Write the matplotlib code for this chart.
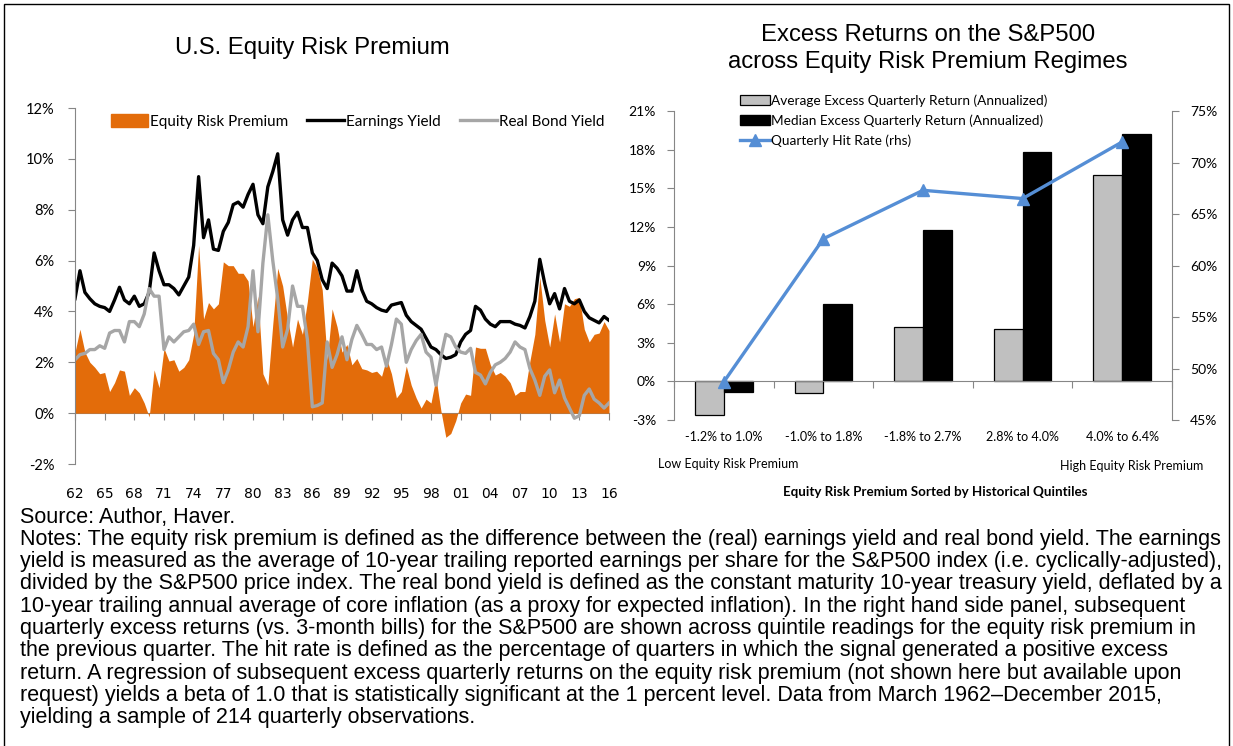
import numpy as np
import matplotlib
matplotlib.use("Agg")
import matplotlib.pyplot as plt
import matplotlib.transforms as mtransforms
from matplotlib.patches import Patch, Rectangle
from matplotlib.lines import Line2D

# ---- data ----
# half-year steps, 1962.0 .. 2016.0
years = np.arange(1962, 2016.01, 0.5)

earnings_yield = [
    4.5, 5.6, 4.75, 4.5, 4.3, 4.2, 4.15, 4.0, 4.45, 4.95,
    4.45, 4.3, 4.6, 4.2, 4.3, 4.75, 6.3, 5.6, 5.05, 5.05,
    4.9, 4.65, 5.0, 5.35, 6.6, 9.3, 6.9, 7.6, 6.45, 6.4,
    7.15, 7.5, 8.2, 8.3, 8.1, 8.6, 9.0, 7.8, 7.45, 8.9,
    9.5, 10.2, 7.6, 7.0, 7.6, 7.9, 7.3, 7.3, 6.3, 6.0,
    5.25, 4.9, 5.9, 5.7, 5.4, 4.8, 4.8, 5.6, 4.85, 4.4,
    4.3, 4.15, 4.05, 4.0, 4.25, 4.3, 4.35, 3.85, 3.6, 3.45,
    3.3, 2.95, 2.6, 2.5, 2.3, 2.15, 2.2, 2.3, 2.8, 3.1,
    3.25, 4.2, 4.05, 3.7, 3.5, 3.4, 3.6, 3.6, 3.6, 3.5,
    3.45, 3.35, 3.8, 4.4, 6.05, 5.1, 4.3, 4.7, 4.1, 4.9,
    4.4, 4.3, 4.45, 4.0, 3.75, 3.65, 3.55, 3.8, 3.65,
]

real_bond_yield = [
    2.1, 2.3, 2.35, 2.5, 2.5, 2.65, 2.55, 3.15, 3.25, 3.25,
    2.8, 3.6, 3.6, 3.4, 3.9, 4.9, 4.6, 4.6, 2.5, 3.0,
    2.8, 3.0, 3.2, 3.25, 3.5, 2.7, 3.2, 3.25, 2.35, 2.1,
    1.2, 1.7, 2.4, 2.8, 2.6, 3.4, 5.6, 3.2, 5.9, 7.8,
    6.0, 4.5, 2.6, 3.3, 5.0, 4.2, 4.2, 2.9, 0.25, 0.3,
    0.4, 2.8, 1.8, 2.3, 3.0, 2.1, 2.9, 3.45, 3.1, 2.7,
    2.7, 2.5, 2.6, 1.85, 2.7, 3.7, 3.5, 2.0, 2.5, 2.85,
    3.1, 2.4, 2.2, 1.1, 2.2, 3.1, 3.0, 2.6, 2.4, 2.35,
    2.55, 1.6, 1.5, 1.15, 1.6, 1.9, 2.0, 2.15, 2.4, 2.8,
    2.6, 2.5, 1.75, 1.3, 0.7, 1.45, 1.7, 0.8, 1.3, 0.6,
    0.2, -0.2, -0.1, 0.7, 0.95, 0.55, 0.4, 0.2, 0.4,
]

# equity risk premium = earnings yield - real bond yield
erp = np.array(earnings_yield) - np.array(real_bond_yield)

year_ticks = list(range(1962, 2017, 3))
year_labels = [str(y)[2:] for y in year_ticks]

quintiles = ["-1.2% to 1.0%", "-1.0% to 1.8%", "-1.8% to 2.7%", "2.8% to 4.0%", "4.0% to 6.4%"]
avg_return = [-2.65, -0.9, 4.25, 4.1, 16.05]
median_return = [-0.8, 6.0, 11.75, 17.8, 19.2]
hit_rate = [48.7, 62.6, 67.3, 66.5, 72.0]

notes = [
    "Source: Author, Haver.",
    "Notes: The equity risk premium is defined as the difference between the (real) earnings yield and real bond yield. The earnings",
    "yield is measured as the average of 10-year trailing reported earnings per share for the S&P500 index (i.e. cyclically-adjusted),",
    "divided by the S&P500 price index. The real bond yield is defined as the constant maturity 10-year treasury yield, deflated by a",
    "10-year trailing annual average of core inflation (as a proxy for expected inflation). In the right hand side panel, subsequent",
    "quarterly excess returns (vs. 3-month bills) for the S&P500 are shown across quintile readings for the equity risk premium in",
    "the previous quarter. The hit rate is defined as the percentage of quarters in which the signal generated a positive excess",
    "return. A regression of subsequent excess quarterly returns on the equity risk premium (not shown here but available upon",
    "request) yields a beta of 1.0 that is statistically significant at the 1 percent level. Data from March 1962\u2013December 2015,",
    "yielding a sample of 214 quarterly observations.",
]

ORANGE = "#E36C0A"
GREY_LINE = "#A6A6A6"
BLUE = "#558ED5"
AXIS = "#868686"
CAL = ["Lato", "DejaVu Sans"]
ARIAL = ["Liberation Sans", "DejaVu Sans"]

W, H = 1233, 746
fig = plt.figure(figsize=(W / 100, H / 100), dpi=100)


def fx(px):
    return px / W


def fy(py):
    return 1 - py / H


# ---- left panel ----
ax = fig.add_axes([fx(75), fy(464), fx(609 - 75), (464 - 108) / H])
ax.fill_between(years, erp, 0, color=ORANGE, lw=0)
ax.plot(years, earnings_yield, color="black", lw=2.4)
ax.plot(years, real_bond_yield, color=GREY_LINE, lw=2.4)

ax.set_xlim(1962, 2016)
ax.set_ylim(-2, 12)
ax.set_yticks(range(-2, 13, 2))
ax.set_yticklabels([f"{v}%" for v in range(-2, 13, 2)], family=CAL, fontsize=10.5)
ax.set_xticks(year_ticks)
ax.set_xticklabels(year_labels, family=CAL, fontsize=11)
for s in ["top", "right"]:
    ax.spines[s].set_visible(False)
ax.spines["left"].set_color(AXIS)
ax.spines["bottom"].set_color(AXIS)
ax.spines["bottom"].set_position(("data", 0))
ax.spines["bottom"].set_zorder(0.5)
ax.tick_params(axis="y", colors=AXIS, labelcolor="black", length=5, pad=10)
ax.tick_params(axis="x", colors=AXIS, labelcolor="black", length=5, pad=48)

handles = [Patch(color=ORANGE), Line2D([], [], color="black", lw=2.4),
           Line2D([], [], color=GREY_LINE, lw=2.4)]
fig.legend(handles, ["Equity Risk Premium", "Earnings Yield", "Real Bond Yield"],
           loc="upper left", bbox_to_anchor=(fx(111), fy(114)), ncol=3, frameon=False,
           prop={"family": CAL, "size": 11}, handlelength=2.4, handleheight=0.9,
           handletextpad=0.15, columnspacing=1.25, borderpad=0, borderaxespad=0)

fig.text(fx(312), fy(48), "U.S. Equity Risk Premium", ha="center", va="center",
         fontsize=17.2, family=ARIAL)

# ---- right panel ----
ax2 = fig.add_axes([fx(674), fy(420), fx(1172 - 674), (420 - 111) / H])
x = np.arange(len(quintiles))
w = 0.29
ax2.bar(x - w / 2, avg_return, w, color="#C0C0C0", edgecolor="black", lw=0.9, zorder=2)
ax2.bar(x + w / 2, median_return, w, color="black", edgecolor="black", lw=0.9, zorder=2)
ax2.set_xlim(-0.5, len(quintiles) - 0.5)
ax2.set_ylim(-3, 21)
ax2.set_yticks(range(-3, 22, 3))
ax2.set_yticklabels([f"{v}%" for v in range(-3, 22, 3)], family=CAL, fontsize=10)
ax2.set_xticks(np.arange(-0.5, len(quintiles)))
ax2.set_xticklabels([])
ax2.spines["top"].set_visible(False)
ax2.spines["right"].set_visible(False)
ax2.spines["left"].set_color(AXIS)
ax2.spines["bottom"].set_color(AXIS)
ax2.spines["bottom"].set_position(("data", 0))
ax2.tick_params(axis="y", colors=AXIS, labelcolor="black", length=5, pad=8)
ax2.tick_params(axis="x", colors=AXIS, length=5)

# category labels below the plot area
trans = mtransforms.blended_transform_factory(ax2.transData, ax2.transAxes)
for xi, lab in zip(x, quintiles):
    ax2.text(xi, -0.055, lab, transform=trans, ha="center", va="center",
             fontsize=9, family=CAL)

ax3 = ax2.twinx()
ax3.plot(x, hit_rate, color=BLUE, lw=2.4, marker="^", ms=8, zorder=3)
ax3.set_ylim(45, 75)
ax3.set_yticks(range(45, 76, 5))
ax3.set_yticklabels([f"{v}%" for v in range(45, 76, 5)], family=CAL, fontsize=10)
for s in ["top", "left", "bottom"]:
    ax3.spines[s].set_visible(False)
ax3.spines["right"].set_color(AXIS)
ax3.tick_params(axis="y", colors=AXIS, labelcolor="black", length=5, pad=8)

handles2 = [Patch(facecolor="#C0C0C0", edgecolor="black", lw=0.9), Patch(color="black"),
            Line2D([], [], color=BLUE, lw=2.4, marker="^", ms=8)]
fig.legend(handles2, ["Average Excess Quarterly Return (Annualized)",
                      "Median Excess Quarterly Return (Annualized)",
                      "Quarterly Hit Rate (rhs)"],
           loc="upper left", bbox_to_anchor=(fx(740), fy(94)), frameon=False,
           prop={"family": CAL, "size": 9.8}, handlelength=2.2, handleheight=0.8,
           handletextpad=0.1, labelspacing=0.55, borderpad=0, borderaxespad=0)

fig.text(fx(928), fy(48.5), "Excess Returns on the S&P500\nacross Equity Risk Premium Regimes",
         ha="center", va="center", fontsize=17.2, family=ARIAL, linespacing=1.27)
fig.text(fx(658), fy(464), "Low Equity Risk Premium", ha="left", va="center",
         fontsize=9, family=CAL)
fig.text(fx(1203), fy(466), "High Equity Risk Premium", ha="right", va="center",
         fontsize=9, family=CAL)
fig.text(fx(935), fy(492), "Equity Risk Premium Sorted by Historical Quintiles",
         ha="center", va="center", fontsize=9.6, family=CAL, fontweight="bold")

# ---- notes ----
for i, line in enumerate(notes):
    fig.text(fx(20), fy(517 + i * 22.3), line, ha="left", va="center",
             fontsize=15.5, family=ARIAL)

fig.patches.append(Rectangle((fx(4), -0.01), fx(1229 - 4), 1.01 - 4 / H, fill=False,
                             edgecolor="black", lw=1, transform=fig.transFigure))

fig.savefig("out.png", dpi=100)
